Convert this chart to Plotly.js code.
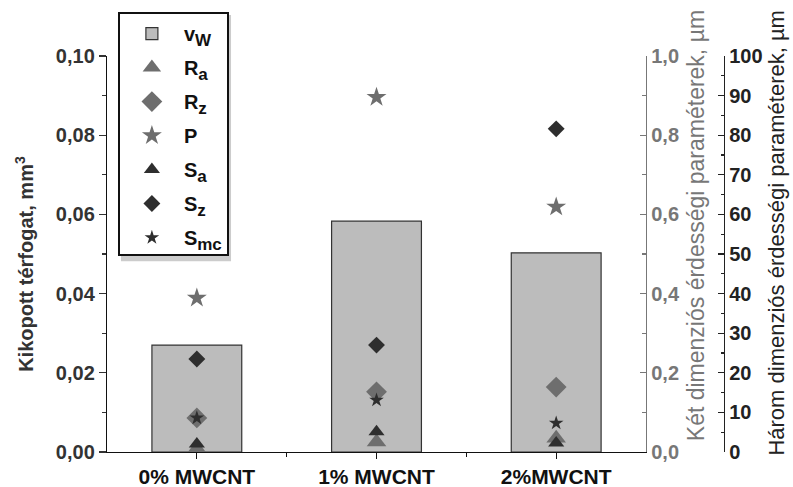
<!DOCTYPE html>
<html>
<head>
<meta charset="utf-8">
<script src="https://cdn.plot.ly/plotly-3.0.1.min.js"></script>
<style>html,body{margin:0;padding:0;background:#fff;}#chart{width:793px;height:487px;}</style>
</head>
<body>
<div id="chart"></div>
<script>
// Categories
var categories = ['0% MWCNT', '1% MWCNT', '2%MWCNT'];
// Worn volume, mm^3 (left axis)
var Vw = [0.027, 0.0583, 0.0503];
// 2D roughness parameters, µm (first right axis)
var Ra = [0.008, 0.025, 0.035];
var Rz = [0.086, 0.152, 0.164];
var P  = [0.389, 0.896, 0.619];
// 3D roughness parameters, µm (second right axis)
var Sa  = [2.0, 5.1, 2.3];
var Sz  = [23.5, 27.0, 81.6];
var Smc = [8.6, 13.1, 7.3];
// Legend labels
var seriesNames = ['v', 'R', 'R', 'P', 'S', 'S', 'S'];
var seriesSubs  = ['W', 'a', 'z', '', 'a', 'z', 'mc'];

var xIdx = categories.map(function (c, i) { return i; });

var FONT = 'Liberation Sans, Arial, sans-serif';
var LIGHT = '#6e6e6e';
var DARK = '#2e2e2e';

function lab(i) {
  return seriesNames[i] + (seriesSubs[i] ? '<sub><span style="font-size:17px">' + seriesSubs[i] + '</span></sub>' : '');
}

function sc(i, y, axis, symbol, size, color) {
  return {
    type: 'scatter', mode: 'markers', name: lab(i), x: xIdx, y: y, yaxis: axis,
    legendgroup: 'g' + i,
    marker: { symbol: symbol, size: size, color: color, line: { width: 0 } },
    hoverinfo: 'skip'
  };
}

var traces = [
  { type: 'bar', name: lab(0), x: xIdx, y: Vw, width: 0.5, legendgroup: 'g0',
    marker: { color: '#bcbcbc', line: { color: '#333', width: 1.2 } }, hoverinfo: 'skip' },
  sc(1, Ra, 'y2', 'triangle-up', 17, LIGHT),
  sc(2, Rz, 'y2', 'diamond', 16, LIGHT),
  sc(3, P, 'y2', 'star', 15, LIGHT),
  sc(4, Sa, 'y3', 'triangle-up', 14, DARK),
  sc(5, Sz, 'y3', 'diamond', 13, DARK),
  sc(6, Smc, 'y3', 'star', 11, DARK)
];

var layout = {
  width: 793, height: 487,
  margin: { l: 107, r: 45, t: 56, b: 35, pad: 0 },
  paper_bgcolor: '#fff', plot_bgcolor: '#fff',
  separators: ', ',
  font: { family: FONT, size: 18, color: '#222' },
  showlegend: true,
  barmode: 'overlay',
  xaxis: {
    domain: [0, 0.8409], range: [-0.5, 2.5], type: 'linear',
    tickmode: 'array', tickvals: xIdx, ticktext: categories,
    showline: true, linecolor: '#111', linewidth: 1.2,
    ticks: 'outside', ticklen: 6, tickcolor: '#111', tickwidth: 1.2,
    minor: { tickmode: 'array', tickvals: [0.5, 1.5], ticks: 'outside', ticklen: 4, tickcolor: '#111' },
    showgrid: false, zeroline: false,
    tickfont: { family: FONT, size: 21, color: '#111', weight: 'bold' }
  },
  yaxis: {
    range: [0, 0.1], dtick: 0.02, tickformat: '.2f',
    showline: true, linecolor: '#111', linewidth: 1.2,
    ticks: 'outside', ticklen: 7, tickcolor: '#333', tickwidth: 1.2,
    minor: { dtick: 0.01, ticks: 'outside', ticklen: 4, tickcolor: '#333' },
    showgrid: false, zeroline: false,
    tickfont: { family: FONT, size: 20, color: '#333', weight: 'bold' }
  },
  yaxis2: {
    overlaying: 'y', side: 'right', anchor: 'x',
    range: [0, 1], dtick: 0.2, tickformat: '.1f',
    showline: true, linecolor: '#777', linewidth: 1.2,
    ticks: 'inside', ticklen: 6, tickcolor: '#777', tickwidth: 1.2,
    minor: { dtick: 0.1, ticks: 'inside', ticklen: 4, tickcolor: '#777' },
    showgrid: false, zeroline: false,
    tickfont: { family: FONT, size: 20, color: '#777', weight: 'bold' }
  },
  yaxis3: {
    overlaying: 'y', side: 'right', anchor: 'free', position: 0.9626,
    range: [0, 100], dtick: 10,
    showline: true, linecolor: '#222', linewidth: 1.2,
    ticks: 'inside', ticklen: 6, tickcolor: '#222', tickwidth: 1.2,
    minor: { dtick: 5, ticks: 'inside', ticklen: 3, tickcolor: '#222' },
    showgrid: false, zeroline: false,
    tickfont: { family: FONT, size: 20, color: '#222', weight: 'bold' }
  },
  legend: {
    x: 0.017, xanchor: 'left', y: 1.111, yanchor: 'top',
    bgcolor: '#fff', bordercolor: '#111', borderwidth: 2,
    tracegroupgap: 5, itemwidth: 54,
    font: { family: FONT, size: 20, color: '#111', weight: 'bold' }
  },
  shapes: [
    { type: 'rect', xref: 'paper', yref: 'paper', layer: 'above',
      x0: 0.0218, x1: 0.1935, y0: 0.482, y1: 1.1035,
      fillcolor: 'rgba(0,0,0,0.2)', line: { width: 0 } }
  ],
  annotations: [
    { text: 'Kikopott térfogat, mm<sup>3</sup>', xref: 'paper', yref: 'paper',
      x: -0.128, y: 0.475, xanchor: 'center', yanchor: 'middle', textangle: -90, showarrow: false,
      font: { family: FONT, size: 20, color: '#333', weight: 'bold' } },
    { text: 'Két dimenziós érdességi paraméterek, µm', xref: 'paper', yref: 'paper',
      x: 0.92, y: 0.572, xanchor: 'center', yanchor: 'middle', textangle: -90, showarrow: false,
      font: { family: FONT, size: 23, color: '#777' } },
    { text: 'Három dimenziós érdességi paraméterek, µm', xref: 'paper', yref: 'paper',
      x: 1.043, y: 0.553, xanchor: 'center', yanchor: 'middle', textangle: -90, showarrow: false,
      font: { family: FONT, size: 22, color: '#222' } }
  ]
};

Plotly.newPlot('chart', traces, layout, { displayModeBar: false, staticPlot: true });
</script>
</body>
</html>
